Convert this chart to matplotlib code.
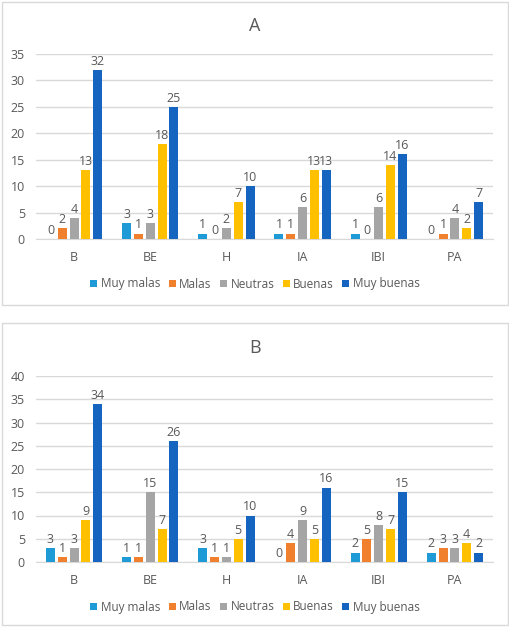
import matplotlib
matplotlib.use("Agg")
import matplotlib.pyplot as plt
from matplotlib.patches import Rectangle, Patch
import numpy as np

plt.rcParams['font.family'] = ['Open Sans', 'DejaVu Sans']

categories = ["B", "BE", "H", "IA", "IBI", "PA"]
series = ["Muy malas", "Malas", "Neutras", "Buenas", "Muy buenas"]
colors = ["#1E9AD6", "#F07F2E", "#A5A5A5", "#FFC000", "#1565C0"]

# Panel A values per series (across categories)
a_muy_malas = [0, 3, 1, 1, 1, 0]
a_malas = [2, 1, 0, 1, 0, 1]
a_neutras = [4, 3, 2, 6, 6, 4]
a_buenas = [13, 18, 7, 13, 14, 2]
a_muy_buenas = [32, 25, 10, 13, 16, 7]

# Panel B values per series
b_muy_malas = [3, 1, 3, 0, 2, 2]
b_malas = [1, 1, 1, 4, 5, 3]
b_neutras = [3, 15, 1, 9, 8, 3]
b_buenas = [9, 7, 5, 5, 7, 4]
b_muy_buenas = [34, 26, 10, 16, 15, 2]

W, H = 510, 627
fig = plt.figure(figsize=(W / 100, H / 100), dpi=100)

txt = "#595959"
grid = "#D9D9D9"

# panel frames
for (y0, y1) in [(2, 305), (323, 625)]:
    fig.patches.append(Rectangle((2 / W, 1 - y1 / H), 506 / W, (y1 - y0) / H,
                                 transform=fig.transFigure, fill=False,
                                 edgecolor="#D9D9D9", linewidth=1.0))


def draw(rect, data, ymax, title, title_y, legend_y):
    ax = fig.add_axes(rect)
    x = np.arange(len(categories))
    step = 0.155
    width = 0.118
    for i, (vals, c) in enumerate(zip(data, colors)):
        pos = x + (i - 2) * step
        ax.bar(pos, vals, width=width, color=c, zorder=3)
        for p, v in zip(pos, vals):
            ax.text(p, v + ymax * 0.012, str(v), ha="center", va="bottom",
                    fontsize=9, color=txt, zorder=4)
    ax.set_xlim(-0.5, len(categories) - 0.5)
    ax.set_ylim(0, ymax)
    ax.set_yticks(np.arange(0, ymax + 1, 5))
    ax.set_xticks(x)
    ax.set_xticklabels(categories)
    ax.tick_params(axis="both", length=0, labelsize=9, colors=txt)
    ax.tick_params(axis="x", pad=9)
    ax.tick_params(axis="y", pad=8)
    ax.yaxis.grid(True, color=grid, linewidth=1.0, zorder=0)
    for s in ["top", "right", "left"]:
        ax.spines[s].set_visible(False)
    ax.spines["bottom"].set_color(grid)
    fig.text(0.5, 1 - title_y / H, title, ha="center", va="center",
             fontsize=13, color=txt)
    handles = [Patch(facecolor=c, edgecolor="none") for c in colors]
    fig.legend(handles, series, loc="center", bbox_to_anchor=(0.5, 1 - legend_y / H),
               ncol=5, frameon=False, fontsize=8.5, labelcolor=txt,
               handlelength=0.6, handleheight=0.6, handletextpad=0.3,
               columnspacing=0.7)
    return ax


data_a = [a_muy_malas, a_malas, a_neutras, a_buenas, a_muy_buenas]
data_b = [b_muy_malas, b_malas, b_neutras, b_buenas, b_muy_buenas]

draw([36 / W, 1 - 239 / H, (493 - 36) / W, (239 - 54) / H], data_a, 35, "A", 26, 284)
draw([36 / W, 1 - 562 / H, (493 - 36) / W, (562 - 376) / H], data_b, 40, "B", 348, 607)

fig.savefig("out.png", dpi=100, facecolor="white")
